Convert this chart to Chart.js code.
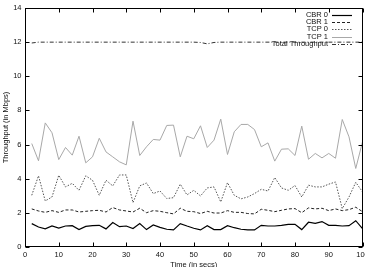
<!DOCTYPE html>
<html>
<head>
<meta charset="utf-8">
<script src="https://cdn.jsdelivr.net/npm/chart.js@4.4.0/dist/chart.umd.min.js"></script>
<style>
  html, body { margin: 0; padding: 0; background: #fff; }
</style>
</head>
<body>
<canvas id="chart" width="365" height="267"></canvas>
<script>
// sample times (secs)
const times = [2, 4, 6, 8, 10, 12, 14, 16, 18, 20, 22, 24, 26, 28, 30, 32, 34, 36, 38, 40,
  42, 44, 46, 48, 50, 52, 54, 56, 58, 60, 62, 64, 66, 68, 70, 72, 74, 76, 78, 80,
  82, 84, 86, 88, 90, 92, 94, 96, 98, 100];

// throughput in Mbps
const cbr0 = [1.37, 1.17, 1.06, 1.23, 1.11, 1.23, 1.25, 1.02, 1.21, 1.25, 1.27, 1.06, 1.43, 1.19, 1.23, 1.08, 1.37, 1.02, 1.29, 1.15,
  1.04, 1.00, 1.37, 1.23, 1.10, 1.00, 1.25, 1.02, 1.02, 1.25, 1.13, 1.04, 1.00, 1.00, 1.27, 1.23, 1.23, 1.27, 1.33, 1.33,
  1.02, 1.45, 1.39, 1.49, 1.27, 1.27, 1.23, 1.25, 1.54, 1.08];
const cbr1 = [2.23, 2.11, 2.03, 2.13, 2.03, 2.17, 2.17, 2.05, 2.09, 2.13, 2.15, 2.05, 2.31, 2.17, 2.11, 2.05, 2.27, 2.01, 2.13, 2.09,
  2.01, 1.94, 2.27, 2.09, 2.07, 1.96, 2.09, 1.99, 1.99, 2.13, 2.03, 2.03, 1.96, 1.94, 2.21, 2.15, 2.07, 2.15, 2.23, 2.25,
  2.01, 2.29, 2.23, 2.27, 2.13, 2.23, 2.13, 2.19, 2.33, 2.07];
const tcp0 = [3.03, 4.17, 2.70, 2.93, 4.20, 3.52, 3.73, 3.32, 4.17, 3.91, 3.03, 3.91, 3.58, 4.22, 4.22, 2.60, 3.58, 3.75, 3.13, 3.28,
  2.84, 2.89, 3.68, 3.05, 3.32, 2.99, 3.46, 3.52, 2.64, 3.77, 3.03, 2.82, 2.93, 3.13, 3.38, 3.28, 4.07, 3.46, 3.32, 3.60,
  2.93, 3.62, 3.52, 3.52, 3.68, 3.81, 2.25, 2.93, 3.79, 3.23];
const tcp1 = [6.06, 5.05, 7.27, 6.69, 5.12, 5.83, 5.38, 6.49, 4.93, 5.28, 6.37, 5.57, 5.28, 4.99, 4.81, 7.37, 5.36, 5.87, 6.30, 6.26,
  7.12, 7.14, 5.28, 6.49, 6.34, 7.10, 5.83, 6.26, 7.49, 5.42, 6.75, 7.18, 7.18, 6.88, 5.87, 6.10, 5.03, 5.73, 5.75, 5.36,
  7.08, 5.14, 5.48, 5.22, 5.48, 5.20, 7.47, 6.45, 4.60, 6.16];
const total = [11.95, 12.0, 12.0, 12.0, 12.0, 12.0, 12.0, 12.0, 12.0, 12.0, 12.0, 12.0, 12.0, 12.0, 12.0, 12.0, 12.0, 12.0, 12.0, 12.0,
  12.0, 12.0, 12.0, 12.0, 12.0, 11.98, 11.9, 11.98, 12.0, 12.0, 12.0, 12.0, 12.0, 12.0, 12.0, 12.0, 12.0, 12.0, 12.0, 12.0,
  12.0, 12.0, 12.0, 12.0, 12.0, 12.0, 12.0, 12.0, 12.0, 12.0];

const xTicks = [0, 10, 20, 30, 40, 50, 60, 70, 80, 90, 100];
const yTicks = [0, 2, 4, 6, 8, 10, 12, 14];

const FONT = 'Liberation Sans, Arial, Helvetica, sans-serif';
const FSIZE = 7.5;

const series = [
  { label: 'CBR 0', data: cbr0, color: '#000', dash: [], width: 1.2 },
  { label: 'CBR 1', data: cbr1, color: '#222', dash: [3, 2], width: 1 },
  { label: 'TCP 0', data: tcp0, color: '#555', dash: [1.5, 1.5], width: 1 },
  { label: 'TCP 1', data: tcp1, color: '#a8a8a8', dash: [], width: 1 },
  { label: 'Total Throughput', data: total, color: '#333', dash: [4, 2, 1, 2], width: 1 }
];

// gnuplot-ish frame with inward ticks on all four sides + key in the corner
const gnuFrame = {
  id: 'gnuFrame',
  afterDatasetsDraw(chart) {
    const { ctx, chartArea: a, scales } = chart;
    const L = Math.round(a.left) + 0.5, R = Math.round(a.right) - 0.5;
    const T = Math.round(a.top) + 0.5, B = Math.round(a.bottom) - 0.5;
    ctx.save();
    ctx.strokeStyle = '#000';
    ctx.lineWidth = 1;
    ctx.setLineDash([]);
    ctx.strokeRect(L, T, R - L, B - T);
    ctx.beginPath();
    xTicks.forEach(v => {
      const px = Math.round(scales.x.getPixelForValue(v)) + 0.5;
      ctx.moveTo(px, B); ctx.lineTo(px, B - 4);
      ctx.moveTo(px, T); ctx.lineTo(px, T + 4);
    });
    yTicks.forEach(v => {
      const py = Math.round(scales.y.getPixelForValue(v)) + 0.5;
      ctx.moveTo(L, py); ctx.lineTo(L + 4, py);
      ctx.moveTo(R, py); ctx.lineTo(R - 4, py);
    });
    ctx.stroke();

    // key
    ctx.font = FSIZE + 'px ' + FONT;
    ctx.fillStyle = '#111';
    ctx.textAlign = 'right';
    ctx.textBaseline = 'middle';
    series.forEach((s, i) => {
      const y = 14.5 + i * 7.4;
      ctx.fillText(s.label, 328, y);
      ctx.beginPath();
      ctx.strokeStyle = s.color;
      ctx.lineWidth = s.width;
      ctx.setLineDash(s.dash);
      ctx.moveTo(332, Math.round(y) + 0.5);
      ctx.lineTo(352, Math.round(y) + 0.5);
      ctx.stroke();
    });
    ctx.restore();
  }
};

new Chart(document.getElementById('chart'), {
  type: 'line',
  data: {
    datasets: series.map(s => ({
      label: s.label,
      data: times.map((t, i) => ({ x: t, y: s.data[i] })),
      borderColor: s.color,
      borderWidth: s.width,
      borderDash: s.dash,
      pointRadius: 0,
      tension: 0,
      fill: false
    }))
  },
  options: {
    responsive: false,
    animation: false,
    devicePixelRatio: 1,
    layout: { padding: { top: 8, right: 2.5, left: 0, bottom: 0 } },
    plugins: { legend: { display: false }, tooltip: { enabled: false } },
    scales: {
      x: {
        type: 'linear',
        min: 0,
        max: 100,
        afterBuildTicks: s => { s.ticks = xTicks.map(v => ({ value: v })); },
        ticks: { font: { family: FONT, size: FSIZE }, color: '#111', padding: 3, maxRotation: 0, autoSkip: false },
        grid: { display: false, drawTicks: false },
        border: { display: false },
        title: { display: true, text: 'Time (in secs)', color: '#111', font: { family: FONT, size: FSIZE }, padding: { top: 0, bottom: -2.5 } },
        afterFit: s => { s.height = 20; s.paddingLeft = 0; s.paddingRight = 0; }
      },
      y: {
        min: 0,
        max: 14,
        afterBuildTicks: s => { s.ticks = yTicks.map(v => ({ value: v })); },
        ticks: { font: { family: FONT, size: FSIZE }, color: '#111', padding: 3.5 },
        grid: { display: false, drawTicks: false },
        border: { display: false },
        title: { display: true, text: 'Throughput (in Mbps)', color: '#111', font: { family: FONT, size: FSIZE }, padding: { top: 1, bottom: 0 } },
        afterFit: s => { s.width = 25; s.paddingTop = 0; s.paddingBottom = 0; }
      }
    }
  },
  plugins: [gnuFrame]
});
</script>
</body>
</html>
